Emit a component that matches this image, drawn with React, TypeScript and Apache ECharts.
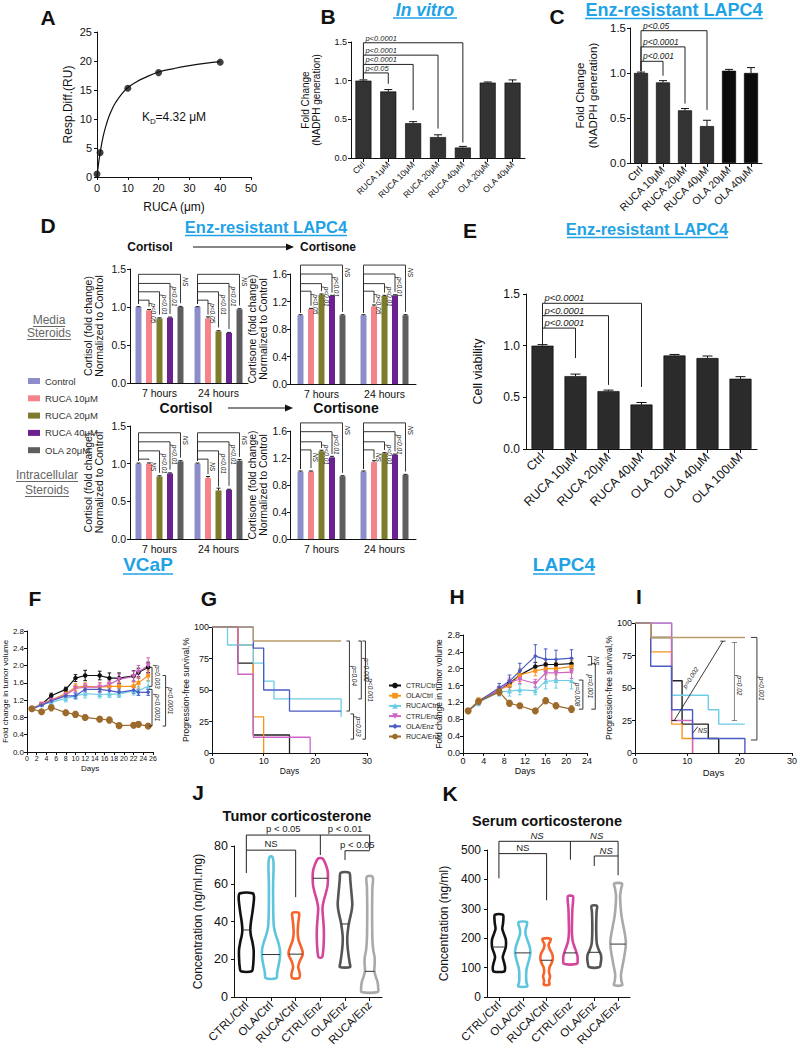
import React, { useEffect, useRef } from 'react';
import * as echarts from 'echarts';

const FONT = '"Liberation Sans", Arial, Helvetica, sans-serif';
const INK = '#111111';
const TITLE_BLUE = '#1fa2e6';

/* ---------- Panel A ---------- */
const aConc = [0, 1, 10, 20, 40];
const aResp = [0.5, 4.2, 15.3, 18.0, 19.8];
const aFitConc = [0, 0.5, 1, 2, 3, 4, 5, 6, 8, 10, 12.5, 15, 20, 25, 30, 35, 40];
const aFitResp = [0, 2.3, 4.1, 7.0, 9.0, 10.6, 11.8, 12.8, 14.3, 15.4, 16.3, 17.0, 18.1, 18.7, 19.2, 19.6, 19.9];

/* ---------- Panel B ---------- */
const bCats = ['Ctrl', 'RUCA 1μM', 'RUCA 10μM', 'RUCA 20μM', 'RUCA 40μM', 'OLA 20μM', 'OLA 40μM'];
const bMean = [1.0, 0.86, 0.45, 0.27, 0.135, 0.975, 0.975];
const bErr = [0.01, 0.025, 0.02, 0.03, 0.015, 0.008, 0.035];
const bPairTo = [1, 2, 3, 4];
const bPairTop = [1.1, 1.21, 1.33, 1.49];
const bPairEnd = [0.96, 0.62, 0.38, 0.2];
const bPairLabel = ['p<0.05', 'p<0.0001', 'p<0.0001', 'p<0.0001'];

/* ---------- Panel C ---------- */
const cCats = ['Ctrl', 'RUCA 10μM', 'RUCA 20μM', 'RUCA 40μM', 'OLA 20μM', 'OLA 40μM'];
const cMean = [1.0, 0.895, 0.585, 0.41, 1.025, 1.0];
const cErr = [0.01, 0.02, 0.02, 0.065, 0.015, 0.06];
const cColors = ['#333333', '#333333', '#333333', '#333333', '#0b0b0b', '#0b0b0b'];
const cPairTo = [1, 2, 3];
const cPairTop = [1.13, 1.29, 1.47];
const cPairEnd = [0.97, 0.66, 0.59];
const cPairLabel = ['p<0.001', 'p<0.0001', 'p<0.05'];

/* ---------- Panel D ---------- */
const dGroups = ['7 hours', '24 hours'];
const dNames = ['Control', 'RUCA 10μM', 'RUCA 20μM', 'RUCA 40μM', 'OLA 20μM'];
const dColors = ['#8d8dca', '#f4838a', '#7c7c2c', '#6b2290', '#5e5e5e'];
const dCortisolMedia = [[1.0, 1.0], [0.955, 0.85], [0.85, 0.68], [0.86, 0.66], [1.0, 0.97]];
const dCortisolMediaErr = [[0.005, 0.005], [0.012, 0.02], [0.008, 0.008], [0.008, 0.006], [0.008, 0.008]];
const dCortisoneMedia = [[1.0, 1.0], [1.09, 1.13], [1.3, 1.28], [1.28, 1.29], [1.0, 1.0]];
const dCortisoneMediaErr = [[0.008, 0.008], [0.01, 0.02], [0.01, 0.01], [0.01, 0.008], [0.008, 0.008]];
const dCortisolIntra = [[1.0, 1.0], [1.0, 0.81], [0.83, 0.645], [0.87, 0.655], [1.03, 1.04]];
const dCortisolIntraErr = [[0.008, 0.008], [0.01, 0.02], [0.01, 0.03], [0.008, 0.006], [0.01, 0.015]];
const dCortisoneIntra = [[1.0, 1.0], [1.0, 1.14], [1.3, 1.27], [1.21, 1.25], [0.93, 0.95]];
const dCortisoneIntraErr = [[0.008, 0.008], [0.008, 0.02], [0.015, 0.01], [0.015, 0.008], [0.008, 0.008]];
const dTopsCortisolMedia = [1.09, 1.2, 1.31, 1.43];
const dTopsCortisoneMedia = [1.35, 1.46, 1.6, 1.73];
const dTopsCortisolIntra = [1.06, 1.17, 1.29, 1.41];
const dTopsCortisoneIntra = [1.32, 1.44, 1.59, 1.72];
const dLabelsMedia = [['p<0.05', 'p<0.01', 'p<0.01', 'NS'], ['p<0.05', 'p<0.01', 'p<0.01', 'NS']];
const dLabelsIntra = [['NS', 'p<0.01', 'p<0.01', 'NS'], ['NS', 'p<0.01', 'p<0.01', 'NS']];

/* ---------- Panel E ---------- */
const eCats = ['Ctrl', 'RUCA 10μM', 'RUCA 20μM', 'RUCA 40μM', 'OLA 20μM', 'OLA 40μM', 'OLA 100uM'];
const eMean = [1.0, 0.705, 0.56, 0.43, 0.905, 0.88, 0.68];
const eErr = [0.01, 0.02, 0.01, 0.02, 0.01, 0.02, 0.02];
const ePairTo = [1, 2, 3];
const ePairTop = [1.17, 1.29, 1.41];
const ePairEnd = [0.88, 0.62, 0.6];
const ePairLabel = ['p<0.0001', 'p<0.0001', 'p<0.0001'];

/* ---------- Groups (F, G, H, I) ---------- */
const groupNames = ['CTRL/Ctrl', 'OLA/Ctrl', 'RUCA/Ctrl', 'CTRL/Enz', 'OLA/Enz', 'RUCA/Enz'];
const lineColors = ['#111111', '#f7941d', '#6dcde6', '#d064c4', '#4a5cc4', '#9c6b2b'];
const kmColors = ['#222222', '#f7941d', '#6dcde6', '#d064c4', '#4a5cc4', '#b99b6b'];
const groupSymbols = ['circle', 'rect', 'triangle', 'path://M0,0L10,0L5,9Z', 'diamond', 'circle'];
const groupSymbolSizes = [4.5, 4, 5, 5, 4.5, 7];

/* F : VCaP tumour volume */
const fDays = [1, 3, 5, 8, 10, 12, 15, 17, 19, 22, 23, 25];
const fCtrlCtrl = [1.0, 1.1, 1.3, 1.45, 1.71, 1.77, 1.77, 1.71, 1.71, 1.76, 1.84, 1.96];
const fOlaCtrl = [1.0, 1.12, 1.2, 1.35, 1.5, 1.52, 1.5, 1.52, 1.52, 1.52, 1.6, 1.77];
const fRucaCtrl = [1.0, 1.1, 1.15, 1.24, 1.3, 1.35, 1.33, 1.34, 1.34, 1.42, 1.42, 1.52];
const fCtrlEnz = [1.0, 1.1, 1.2, 1.32, 1.47, 1.5, 1.5, 1.56, 1.68, 1.75, 1.85, 2.0];
const fOlaEnz = [1.0, 1.08, 1.18, 1.3, 1.3, 1.45, 1.45, 1.42, 1.38, 1.43, 1.38, 1.38];
const fRucaEnz = [1.0, 0.93, 1.03, 0.91, 0.87, 0.8, 0.76, 0.74, 0.61, 0.62, 0.64, 0.6];
const fErrCtrlCtrl = [0.02, 0.04, 0.06, 0.05, 0.08, 0.12, 0.1, 0.12, 0.12, 0.12, 0.1, 0.12];
const fErrOlaCtrl = [0.02, 0.03, 0.05, 0.08, 0.08, 0.08, 0.1, 0.1, 0.1, 0.1, 0.12, 0.12];
const fErrRucaCtrl = [0.02, 0.03, 0.05, 0.08, 0.08, 0.1, 0.08, 0.08, 0.08, 0.1, 0.1, 0.12];
const fErrCtrlEnz = [0.02, 0.03, 0.05, 0.05, 0.08, 0.08, 0.1, 0.1, 0.12, 0.12, 0.15, 0.18];
const fErrOlaEnz = [0.02, 0.03, 0.04, 0.05, 0.06, 0.06, 0.08, 0.08, 0.08, 0.07, 0.07, 0.07];
const fErrRucaEnz = [0.02, 0.04, 0.08, 0.06, 0.07, 0.06, 0.06, 0.07, 0.06, 0.06, 0.06, 0.06];
const fBrkX = [25.8, 25.8, 28.6];
const fBrkTop = [1.96, 1.45, 1.77];
const fBrkBottom = [1.52, 0.6, 0.6];
const fBrkLabel = ['p=0.003', 'p<0.0001', 'p<0.0001'];

/* G : VCaP progression-free survival */
const gCtrlCtrl = [[0, 100], [5, 71.4], [8, 14.3], [15, 0]];
const gOlaCtrl = [[0, 100], [5, 85.7], [8, 28.6], [10, 0]];
const gRucaCtrl = [[0, 100], [3, 85.7], [8, 71.4], [10, 57.1], [12, 42.9], [25, 28.6]];
const gCtrlEnz = [[0, 100], [5, 62.5], [8, 12.5], [19, 0]];
const gOlaEnz = [[0, 100], [8, 83.3], [10, 50], [15, 33.3], [25, 33.3]];
const gRucaEnz = [[0, 100], [8, 88.9], [25, 88.9]];
const gBrkX = [26.6, 27.4, 28.9, 29.7];
const gBrkTop = [88.9, 31, 88.9, 88.9];
const gBrkBottom = [33.3, 11, 42.9, 11];
const gBrkLabel = ['p=0.04', 'p=0.03', 'p=0.002', 'p<0.001'];

/* H : LAPC4 tumour volume */
const hDays = [1, 3, 7, 9, 11, 14, 16, 18, 21];
const hCtrlCtrl = [1.0, 1.2, 1.5, 1.65, 1.85, 2.05, 2.1, 2.1, 2.12];
const hOlaCtrl = [1.0, 1.25, 1.5, 1.6, 1.85, 1.95, 2.0, 2.0, 2.05];
const hRucaCtrl = [1.0, 1.2, 1.45, 1.47, 1.5, 1.48, 1.7, 1.72, 1.72];
const hCtrlEnz = [1.0, 1.22, 1.5, 1.68, 1.75, 1.65, 1.9, 1.9, 1.92];
const hOlaEnz = [1.0, 1.22, 1.55, 1.7, 1.95, 2.3, 2.22, 2.22, 2.25];
const hRucaEnz = [1.0, 1.22, 1.45, 1.18, 1.12, 1.0, 1.24, 1.12, 1.04];
const hErrCtrlCtrl = [0.02, 0.06, 0.08, 0.08, 0.1, 0.1, 0.12, 0.12, 0.12];
const hErrOlaCtrl = [0.02, 0.06, 0.08, 0.1, 0.15, 0.12, 0.15, 0.15, 0.15];
const hErrRucaCtrl = [0.02, 0.08, 0.1, 0.12, 0.12, 0.1, 0.18, 0.18, 0.2];
const hErrCtrlEnz = [0.02, 0.06, 0.08, 0.1, 0.1, 0.1, 0.15, 0.15, 0.15];
const hErrOlaEnz = [0.02, 0.06, 0.1, 0.15, 0.18, 0.27, 0.25, 0.22, 0.2];
const hErrRucaEnz = [0.02, 0.05, 0.08, 0.07, 0.06, 0.04, 0.07, 0.07, 0.08];
const hBrkX = [24.9, 23.2, 25.6];
const hBrkTop = [2.29, 1.73, 2.12];
const hBrkBottom = [2.09, 1.04, 1.04];
const hBrkLabel = ['NS', 'p=0.008', 'p=0.001'];
const hBrkSide = [1, -1, -1];

/* I : LAPC4 progression-free survival */
const iCtrlCtrl = [[0, 100], [3, 88.9], [7, 55.6], [9, 22.2], [14, 11.1], [16, 0]];
const iOlaCtrl = [[0, 100], [3, 77.8], [7, 22.2], [9, 11.1], [11, 0]];
const iRucaCtrl = [[0, 100], [7, 44.4], [14, 33.3], [16, 22.2], [21, 22.2]];
const iCtrlEnz = [[0, 100], [7, 25], [11, 0]];
const iOlaEnz = [[0, 100], [3, 66.7], [7, 33.3], [11, 11.1], [21, 0]];
const iRucaEnz = [[0, 100], [3, 88.9], [21, 88.9]];
const iBlackSegs = [[7.5, 25, 16.8, 86], [7.0, 25, 8.0, 25], [16.3, 86, 17.3, 86], [11.0, 15.2, 12.0, 20.3]];
const iGraySegs = [[19, 85, 19, 25], [18.5, 85, 19.5, 85], [18.5, 25, 19.5, 25]];
const iTextX = [10.6, 20.0, 12.9];
const iTextY = [58, 52, 17.5];
const iText = ['p=0.002', 'p=0.02', 'NS'];
const iTextRot = [57, -90, 0];
const iBrkX = [23.3];
const iBrkTop = [88.9];
const iBrkBottom = [10];
const iBrkLabel = ['p<0.001'];

/* ---------- J / K violins ---------- */
const vCats = ['CTRL/Ctrl', 'OLA/Ctrl', 'RUCA/Ctrl', 'CTRL/Enz', 'OLA/Enz', 'RUCA/Enz'];
const vColors = ['#111111', '#5ec6dc', '#f4642b', '#d4459e', '#555555', '#a9a9a9'];
const jMedian = [35.5, 22.5, 22.7, 62.9, 38.7, 13.6];
const jShapeCtrlCtrl = [[13.6, 0.63], [16, 0.78], [20, 0.85], [25, 0.86], [29, 0.72], [33, 0.52], [36, 0.47], [40, 0.55], [45, 0.72], [50, 0.86], [53, 0.9], [54.9, 0.76]];
const jShapeOlaCtrl = [[10, 0.62], [13, 0.72], [17, 0.9], [21, 1.05], [25, 1.05], [29, 0.85], [33, 0.55], [37, 0.35], [42, 0.28], [50, 0.25], [60, 0.25], [68, 0.3], [72, 0.28], [74.3, 0.15]];
const jShapeRucaCtrl = [[10, 0.4], [12, 0.5], [14, 0.4], [16, 0.3], [19, 0.48], [22, 0.8], [24, 0.82], [27, 0.6], [30, 0.35], [34, 0.24], [39, 0.3], [42, 0.38], [44.6, 0.38]];
const jShapeCtrlEnz = [[21, 0.2], [23, 0.3], [27, 0.38], [32, 0.42], [37, 0.4], [42, 0.32], [47, 0.25], [51, 0.4], [55, 0.65], [59, 0.85], [63, 0.9], [67, 0.85], [70, 0.65], [72.5, 0.4], [73.5, 0.2]];
const jShapeOlaEnz = [[15.9, 0.6], [18, 0.55], [23, 0.39], [28, 0.28], [32, 0.27], [36, 0.36], [40, 0.5], [45, 0.75], [49, 0.86], [53, 0.8], [58, 0.7], [62, 0.62], [65.8, 0.5]];
const jShapeRucaEnz = [[2.6, 0.95], [5, 1.0], [8, 0.92], [11, 0.7], [14, 0.55], [18, 0.6], [21, 0.58], [25, 0.42], [30, 0.33], [40, 0.29], [50, 0.29], [58, 0.32], [63.7, 0.35]];
const jSegs = [[0, 85.8, 5, 85.8], [0, 85.8, 0, 65.7], [3, 85.8, 3, 75.2], [5, 85.8, 5, 77.8], [0, 77.8, 2, 77.8], [2, 77.8, 2, 52.9], [4, 77.5, 5, 77.5], [4, 77.5, 4, 72.6]];
const jTextX = [1.5, 4, 1, 4.5];
const jTextY = [86.6, 86.6, 78.6, 78.3];
const jText = ['p < 0.05', 'p < 0.01', 'NS', 'p < 0.05'];

const kMedian = [170, 150, 125, 150, 152, 180];
const kShapeCtrlCtrl = [[87, 0.65], [100, 0.75], [115, 0.65], [135, 0.47], [150, 0.6], [170, 0.84], [195, 0.84], [215, 0.6], [232, 0.41], [250, 0.5], [270, 0.55], [280, 0.5]];
const kShapeOlaCtrl = [[36, 0.55], [50, 0.45], [75, 0.41], [100, 0.5], [125, 0.75], [150, 0.94], [170, 0.85], [195, 0.55], [215, 0.33], [230, 0.35], [245, 0.5], [255, 0.5]];
const kShapeRucaCtrl = [[42, 0.35], [55, 0.3], [70, 0.42], [85, 0.3], [100, 0.35], [115, 0.6], [130, 0.76], [145, 0.7], [165, 0.35], [178, 0.25], [190, 0.45], [198, 0.49]];
const kShapeCtrlEnz = [[113, 0.8], [125, 0.88], [140, 0.85], [155, 0.7], [170, 0.5], [190, 0.28], [220, 0.18], [260, 0.2], [300, 0.24], [325, 0.32], [343, 0.3]];
const kShapeOlaEnz = [[102, 0.65], [115, 0.78], [130, 0.85], [145, 0.8], [160, 0.55], [180, 0.32], [210, 0.25], [250, 0.24], [290, 0.28], [310, 0.33]];
const kShapeRucaEnz = [[40, 0.5], [55, 0.4], [75, 0.35], [100, 0.5], [130, 0.7], [160, 0.88], [185, 0.95], [210, 0.85], [240, 0.65], [275, 0.42], [310, 0.3], [345, 0.25], [370, 0.38], [386, 0.48]];
const kSegs = [[0, 529.6, 5, 529.6], [0, 529.6, 0, 403.7], [3, 529.6, 3, 467], [5, 529.6, 5, 414], [0, 487.7, 2, 487.7], [2, 487.7, 2, 329], [4, 479.6, 5, 479.6], [4, 479.6, 4, 445.6]];
const kTextX = [1.6, 4.1, 1.0, 4.5];
const kTextY = [532, 532, 490, 482];
const kText = ['NS', 'NS', 'NS', 'NS'];
const kItalic = [true, true, false, true];

/* ================= helpers ================= */
function ts(text: string, fontSize: number, opt: any = {}) {
  const align = opt.align || 'center';
  const v = opt.v || 'middle';
  return {
    text, fontSize, fontFamily: FONT,
    fontStyle: opt.italic ? 'italic' : 'normal',
    fontWeight: opt.bold ? 'bold' : 'normal',
    fill: opt.color || INK, textFill: opt.color || INK,
    align, textAlign: align, verticalAlign: v, textVerticalAlign: v,
  };
}

function pt(api: any, x: number, y: number) {
  const x0 = Math.floor(x);
  const f = x - x0;
  const a = api.coord([x0, y]);
  if (f === 0) return a;
  const b = api.coord([x0 + 1, y]);
  return [a[0] + (b[0] - a[0]) * f, a[1]];
}

const fmt1 = (v: number) => v.toFixed(1);

function valueAxis(gridIndex: number, min: number, max: number, interval: number, fontSize: number, o: any = {}) {
  return {
    type: 'value', gridIndex, min, max, interval,
    name: o.name, nameLocation: 'middle', nameGap: o.nameGap ?? 20,
    nameTextStyle: { fontFamily: FONT, fontSize: o.nameSize ?? fontSize, color: INK, lineHeight: o.nameLH },
    axisLine: { show: true, onZero: false, lineStyle: { color: INK, width: 1 } },
    axisTick: { show: true, length: o.tick ?? 3, lineStyle: { color: INK, width: 1 } },
    splitLine: { show: false },
    axisLabel: { color: INK, fontSize, fontFamily: FONT, margin: o.margin ?? 4, formatter: o.fmt },
  };
}

function categoryAxis(gridIndex: number, data: string[], fontSize: number, o: any = {}) {
  return {
    type: 'category', gridIndex, data,
    axisLine: { show: true, onZero: false, lineStyle: { color: INK, width: 1 } },
    axisTick: { show: true, alignWithLabel: true, length: o.tick ?? 4, lineStyle: { color: INK, width: 1 } },
    splitLine: { show: false },
    axisLabel: { color: INK, fontSize, fontFamily: FONT, rotate: o.rotate ?? 0, margin: o.margin ?? 5, interval: 0 },
  };
}

function barErrSeries(ax: number, means: number[], errs: number[], cap: number) {
  return {
    type: 'custom', xAxisIndex: ax, yAxisIndex: ax, clip: false, silent: true, z: 4,
    data: means.map((m, i) => [i, m]),
    renderItem: (params: any, api: any) => {
      const i = params.dataIndex;
      const a = api.coord([i, means[i]]);
      const b = api.coord([i, means[i] + errs[i]]);
      return {
        type: 'group', children: [
          { type: 'line', shape: { x1: a[0], y1: a[1], x2: b[0], y2: b[1] }, style: { stroke: INK, lineWidth: 1 } },
          { type: 'line', shape: { x1: b[0] - cap, y1: b[1], x2: b[0] + cap, y2: b[1] }, style: { stroke: INK, lineWidth: 1 } },
        ],
      };
    },
  };
}

function pairBracketSeries(ax: number, to: number[], tops: number[], ends: number[], labels: string[], leftEnd: number, fontSize: number) {
  return {
    type: 'custom', xAxisIndex: ax, yAxisIndex: ax, clip: false, silent: true, z: 5,
    data: to.map((t, i) => [t, tops[i]]),
    renderItem: (params: any, api: any) => {
      const i = params.dataIndex;
      const p0 = api.coord([0, tops[i]]);
      const pk = api.coord([to[i], tops[i]]);
      const yL = api.coord([0, leftEnd])[1];
      const yR = api.coord([to[i], ends[i]])[1];
      return {
        type: 'group', children: [
          { type: 'polyline', shape: { points: [[p0[0], yL], [p0[0], p0[1]], [pk[0], p0[1]], [pk[0], yR]] }, style: { stroke: '#222', lineWidth: 1, fill: null } },
          { type: 'text', x: p0[0] + 2, y: p0[1] - 0.5, style: ts(labels[i], fontSize, { italic: true, align: 'left', v: 'bottom', color: '#222' }) },
        ],
      };
    },
  };
}

function dErrSeries(ax: number, vals: number[][], errs: number[][], spacing: number) {
  const items: number[][] = [];
  for (let k = 0; k < 5; k++) for (let g = 0; g < 2; g++) items.push([g, vals[k][g], errs[k][g], k]);
  return {
    type: 'custom', xAxisIndex: ax, yAxisIndex: ax, clip: false, silent: true, z: 4,
    data: items.map((it) => [it[0], it[1]]),
    renderItem: (params: any, api: any) => {
      const it = items[params.dataIndex];
      const x = api.coord([it[0], 0])[0] + (it[3] - 2) * spacing;
      const y1 = api.coord([it[0], it[1]])[1];
      const y2 = api.coord([it[0], it[1] + it[2]])[1];
      return {
        type: 'group', children: [
          { type: 'line', shape: { x1: x, y1, x2: x, y2 }, style: { stroke: '#222', lineWidth: 1 } },
          { type: 'line', shape: { x1: x - 2, y1: y2, x2: x + 2, y2 }, style: { stroke: '#222', lineWidth: 1 } },
        ],
      };
    },
  };
}

function dBracketSeries(ax: number, vals: number[][], tops: number[], labels: string[][], spacing: number) {
  const items: any[] = [];
  for (let g = 0; g < 2; g++) for (let k = 1; k <= 4; k++) items.push({ g, k, top: tops[k - 1], l: vals[0][g], r: vals[k][g], label: labels[g][k - 1] });
  return {
    type: 'custom', xAxisIndex: ax, yAxisIndex: ax, clip: false, silent: true, z: 5,
    data: items.map((it) => [it.g, it.top]),
    renderItem: (params: any, api: any) => {
      const it = items[params.dataIndex];
      const cx = api.coord([it.g, 0])[0];
      const x0 = cx - 2 * spacing;
      const xk = cx + (it.k - 2) * spacing;
      const yT = api.coord([it.g, it.top])[1];
      const yL = api.coord([it.g, it.l + 0.04])[1];
      const yR = api.coord([it.g, it.r + 0.05])[1];
      return {
        type: 'group', children: [
          { type: 'polyline', shape: { points: [[x0, yL], [x0, yT], [xk, yT], [xk, yR]] }, style: { stroke: '#222', lineWidth: 0.9, fill: null } },
          { type: 'text', x: xk + 1.2, y: yT + 3, rotation: -Math.PI / 2, style: ts(it.label, 6.5, { italic: true, align: 'left', v: 'bottom', color: '#222' }) },
        ],
      };
    },
  };
}

function lineErrSeries(ax: number, xs: number[], means: number[], errs: number[], color: string) {
  return {
    type: 'custom', xAxisIndex: ax, yAxisIndex: ax, clip: false, silent: true, z: 3,
    data: xs.map((x, i) => [x, means[i]]),
    renderItem: (params: any, api: any) => {
      const i = params.dataIndex;
      const lo = api.coord([xs[i], means[i] - errs[i]]);
      const hi = api.coord([xs[i], means[i] + errs[i]]);
      const c = 1.8;
      return {
        type: 'group', children: [
          { type: 'line', shape: { x1: lo[0], y1: lo[1], x2: hi[0], y2: hi[1] }, style: { stroke: color, lineWidth: 1 } },
          { type: 'line', shape: { x1: hi[0] - c, y1: hi[1], x2: hi[0] + c, y2: hi[1] }, style: { stroke: color, lineWidth: 1 } },
          { type: 'line', shape: { x1: lo[0] - c, y1: lo[1], x2: lo[0] + c, y2: lo[1] }, style: { stroke: color, lineWidth: 1 } },
        ],
      };
    },
  };
}

function vBracketSeries(ax: number, xs: number[], tops: number[], bottoms: number[], labels: string[], sides: number[], tick: number, fontSize: number) {
  return {
    type: 'custom', xAxisIndex: ax, yAxisIndex: ax, clip: false, silent: true, z: 6,
    data: xs.map((x, i) => [x, tops[i]]),
    renderItem: (params: any, api: any) => {
      const i = params.dataIndex;
      const a = api.coord([xs[i], tops[i]]);
      const b = api.coord([xs[i], bottoms[i]]);
      const s = sides[i];
      return {
        type: 'group', children: [
          { type: 'polyline', shape: { points: [[a[0] - tick, a[1]], [a[0], a[1]], [b[0], b[1]], [b[0] - tick, b[1]]] }, style: { stroke: '#222', lineWidth: 0.9, fill: null } },
          { type: 'text', x: a[0] + s * 1.5, y: (a[1] + b[1]) / 2, rotation: -Math.PI / 2, style: ts(labels[i], fontSize, { italic: true, align: 'center', v: s > 0 ? 'bottom' : 'top', color: '#222' }) },
        ],
      };
    },
  };
}

function segSeries(ax: number, segs: number[][], color: string, width: number) {
  return {
    type: 'custom', xAxisIndex: ax, yAxisIndex: ax, clip: false, silent: true, z: 6,
    data: segs.map((s) => [s[0], s[1]]),
    renderItem: (params: any, api: any) => {
      const s = segs[params.dataIndex];
      const p = pt(api, s[0], s[1]);
      const q = pt(api, s[2], s[3]);
      return { type: 'line', shape: { x1: p[0], y1: p[1], x2: q[0], y2: q[1] }, style: { stroke: color, lineWidth: width } };
    },
  };
}

function textSeries(ax: number, xs: number[], ys: number[], texts: string[], fontSize: number, opt: any = {}) {
  return {
    type: 'custom', xAxisIndex: ax, yAxisIndex: ax, clip: false, silent: true, z: 6,
    data: xs.map((x, i) => [x, ys[i]]),
    renderItem: (params: any, api: any) => {
      const i = params.dataIndex;
      const p = pt(api, xs[i], ys[i]);
      const rot = opt.rot ? opt.rot[i] : 0;
      const italic = Array.isArray(opt.italic) ? opt.italic[i] : !!opt.italic;
      return {
        type: 'text', x: p[0], y: p[1], rotation: (rot * Math.PI) / 180,
        style: ts(texts[i], fontSize, { italic, align: 'center', v: opt.v || 'bottom', color: opt.color || '#222' }),
      };
    },
  };
}

function violinSeries(ax: number, shapes: number[][][], medians: number[]) {
  return {
    type: 'custom', xAxisIndex: ax, yAxisIndex: ax, clip: false, silent: true, z: 4,
    data: medians.map((m, i) => [i, m]),
    renderItem: (params: any, api: any) => {
      const i = params.dataIndex;
      const prof = shapes[i];
      const cx = api.coord([i, 0])[0];
      const hw = api.size([1, 0])[0] * 0.345;
      const right = prof.map(([v, w]) => [cx + w * hw, api.coord([i, v])[1]]);
      const left = prof.slice().reverse().map(([v, w]) => [cx - w * hw, api.coord([i, v])[1]]);
      const m = medians[i];
      let mw = prof[0][1];
      for (let j = 0; j < prof.length - 1; j++) {
        if (m >= prof[j][0] && m <= prof[j + 1][0]) {
          const f = (m - prof[j][0]) / (prof[j + 1][0] - prof[j][0]);
          mw = prof[j][1] + (prof[j + 1][1] - prof[j][1]) * f;
        }
      }
      const my = api.coord([i, m])[1];
      return {
        type: 'group', children: [
          { type: 'polygon', shape: { points: right.concat(left), smooth: 0.3 }, style: { fill: 'none', stroke: vColors[i], lineWidth: 2.6, lineJoin: 'round' } },
          { type: 'line', shape: { x1: cx - mw * hw, y1: my, x2: cx + mw * hw, y2: my }, style: { stroke: '#333', lineWidth: 1 } },
        ],
      };
    },
  };
}

/* graphic helpers */
function gText(text: string, x: number, y: number, size: number, opt: any = {}) {
  return { type: 'text', x, y, silent: true, style: ts(text, size, opt) };
}
function gLine(x1: number, y1: number, x2: number, y2: number, color: string, w: number) {
  return { type: 'line', silent: true, shape: { x1, y1, x2, y2 }, style: { stroke: color, lineWidth: w } };
}

function buildOption() {
  const grids = [
    { left: 97, top: 32, width: 154, height: 145 },
    { left: 351, top: 42, width: 174, height: 116 },
    { left: 630, top: 28, width: 132, height: 135 },
    { left: 130, top: 269, width: 118, height: 114 },
    { left: 290, top: 274, width: 126, height: 110 },
    { left: 130, top: 426, width: 118, height: 113 },
    { left: 290, top: 431, width: 126, height: 108 },
    { left: 526, top: 294, width: 231, height: 155 },
    { left: 25, top: 631, width: 128, height: 121 },
    { left: 212, top: 627, width: 155, height: 126 },
    { left: 463, top: 635, width: 124, height: 118 },
    { left: 635, top: 623, width: 158, height: 130 },
    { left: 234, top: 846, width: 148, height: 151 },
    { left: 487, top: 850, width: 143, height: 147 },
  ];

  const dNameCortisol = 'Cortisol (fold change)\nNormalized to Control';
  const dNameCortisone = 'Cortisone (fold change)\nNormalized to Control';
  const vol = 'Fold change in tumor volume';
  const pfs = 'Progression-free survival,%';

  const xAxis = [
    valueAxis(0, 0, 50, 10, 11, { name: 'RUCA (μm)', nameGap: 24, nameSize: 12, margin: 5 }),
    categoryAxis(1, bCats, 8.5, { rotate: 45, margin: 5 }),
    categoryAxis(2, cCats, 10.5, { rotate: 45, margin: 5 }),
    categoryAxis(3, dGroups, 10.5, { tick: 0, margin: 4 }),
    categoryAxis(4, dGroups, 10.5, { tick: 0, margin: 4 }),
    categoryAxis(5, dGroups, 10.5, { tick: 0, margin: 4 }),
    categoryAxis(6, dGroups, 10.5, { tick: 0, margin: 4 }),
    categoryAxis(7, eCats, 12.5, { rotate: 45, margin: 6 }),
    valueAxis(8, 0, 26, 2, 7, { name: 'Days', nameGap: 12, nameSize: 8, margin: 3 }),
    valueAxis(9, 0, 30, 10, 9, { name: 'Days', nameGap: 13, nameSize: 8.5, margin: 3 }),
    valueAxis(10, 0, 24, 4, 9, { name: 'Days', nameGap: 13, nameSize: 9, margin: 3 }),
    valueAxis(11, 0, 30, 10, 9, { name: 'Days', nameGap: 14, nameSize: 9.5, margin: 3 }),
    categoryAxis(12, vCats, 11.5, { rotate: 45, margin: 6 }),
    categoryAxis(13, vCats, 11.5, { rotate: 45, margin: 6 }),
  ];

  const yAxis = [
    valueAxis(0, 0, 25, 5, 11, { name: 'Resp.Diff.(RU)', nameGap: 23, nameSize: 12, margin: 5 }),
    valueAxis(1, 0, 1.5, 0.5, 9, { name: 'Fold Change\n(NADPH generation)', nameGap: 29, nameSize: 10, nameLH: 11, fmt: fmt1 }),
    valueAxis(2, 0, 1.5, 0.5, 11.5, { name: 'Fold Change\n(NADPH generation)', nameGap: 31, nameSize: 11.5, nameLH: 13, fmt: fmt1 }),
    valueAxis(3, 0, 1.5, 0.5, 10.5, { name: dNameCortisol, nameGap: 26, nameSize: 10.5, nameLH: 11, fmt: fmt1 }),
    valueAxis(4, 0, 1.6, 0.4, 10.5, { name: dNameCortisone, nameGap: 13, nameSize: 10.5, nameLH: 11, fmt: fmt1, margin: 3 }),
    valueAxis(5, 0, 1.5, 0.5, 10.5, { name: dNameCortisol, nameGap: 26, nameSize: 10.5, nameLH: 11, fmt: fmt1 }),
    valueAxis(6, 0, 1.6, 0.4, 10.5, { name: dNameCortisone, nameGap: 13, nameSize: 10.5, nameLH: 11, fmt: fmt1, margin: 3 }),
    valueAxis(7, 0, 1.5, 0.5, 12, { name: 'Cell viability', nameGap: 42, nameSize: 12.5, fmt: fmt1, margin: 6 }),
    valueAxis(8, 0, 2.8, 0.4, 8, { name: vol, nameGap: 16, nameSize: 8, fmt: fmt1, margin: 3 }),
    valueAxis(9, 0, 100, 25, 9, { name: pfs, nameGap: 18, nameSize: 8.5, margin: 3 }),
    valueAxis(10, 0, 2.8, 0.4, 9, { name: vol, nameGap: 20, nameSize: 8.5, fmt: fmt1, margin: 3 }),
    valueAxis(11, 0, 100, 25, 9, { name: pfs, nameGap: 19, nameSize: 8.5, margin: 3 }),
    valueAxis(12, 0, 80, 20, 12.5, { name: 'Concentration (ng/ml.mg)', nameGap: 30, nameSize: 12, margin: 6 }),
    valueAxis(13, 0, 500, 100, 12, { name: 'Concentration (ng/ml)', nameGap: 37, nameSize: 12, margin: 6 }),
  ];

  const series: any[] = [];

  /* A */
  series.push({
    type: 'line', xAxisIndex: 0, yAxisIndex: 0, smooth: true, showSymbol: false, silent: true,
    data: aFitConc.map((x, i) => [x, aFitResp[i]]), lineStyle: { color: INK, width: 1.2 },
  });
  series.push({
    type: 'scatter', xAxisIndex: 0, yAxisIndex: 0, symbolSize: 7, silent: true,
    data: aConc.map((x, i) => [x, aResp[i]]), itemStyle: { color: INK },
  });

  /* B */
  series.push({ type: 'bar', xAxisIndex: 1, yAxisIndex: 1, data: bMean, barWidth: 16, silent: true, itemStyle: { color: '#333', borderColor: '#000', borderWidth: 0.6 } });
  series.push(barErrSeries(1, bMean, bErr, 4));
  series.push(pairBracketSeries(1, bPairTo, bPairTop, bPairEnd, bPairLabel, 1.02, 7.5));

  /* C */
  series.push({
    type: 'bar', xAxisIndex: 2, yAxisIndex: 2, barWidth: 14, silent: true,
    data: cMean.map((v, i) => ({ value: v, itemStyle: { color: cColors[i] } })),
    itemStyle: { borderColor: '#000', borderWidth: 0.6 },
  });
  series.push(barErrSeries(2, cMean, cErr, 4));
  series.push(pairBracketSeries(2, cPairTo, cPairTop, cPairEnd, cPairLabel, 1.02, 8.5));

  /* D */
  const spacing = 10.5;
  const dPanels = [
    { ax: 3, vals: dCortisolMedia, errs: dCortisolMediaErr, tops: dTopsCortisolMedia, labels: dLabelsMedia },
    { ax: 4, vals: dCortisoneMedia, errs: dCortisoneMediaErr, tops: dTopsCortisoneMedia, labels: dLabelsMedia },
    { ax: 5, vals: dCortisolIntra, errs: dCortisolIntraErr, tops: dTopsCortisolIntra, labels: dLabelsIntra },
    { ax: 6, vals: dCortisoneIntra, errs: dCortisoneIntraErr, tops: dTopsCortisoneIntra, labels: dLabelsIntra },
  ];
  dPanels.forEach((p) => {
    dNames.forEach((n, k) => {
      series.push({ type: 'bar', name: n, xAxisIndex: p.ax, yAxisIndex: p.ax, data: p.vals[k], barWidth: 6, barGap: '75%', silent: true, itemStyle: { color: dColors[k] } });
    });
    series.push(dErrSeries(p.ax, p.vals, p.errs, spacing));
    series.push(dBracketSeries(p.ax, p.vals, p.tops, p.labels, spacing));
  });

  /* E */
  series.push({ type: 'bar', xAxisIndex: 7, yAxisIndex: 7, data: eMean, barWidth: 22, silent: true, itemStyle: { color: '#2b2b2b', borderColor: '#000', borderWidth: 0.6 } });
  series.push(barErrSeries(7, eMean, eErr, 5));
  series.push(pairBracketSeries(7, ePairTo, ePairTop, ePairEnd, ePairLabel, 1.02, 9.5));

  /* F */
  const fVals = [fCtrlCtrl, fOlaCtrl, fRucaCtrl, fCtrlEnz, fOlaEnz, fRucaEnz];
  const fErrs = [fErrCtrlCtrl, fErrOlaCtrl, fErrRucaCtrl, fErrCtrlEnz, fErrOlaEnz, fErrRucaEnz];
  groupNames.forEach((n, k) => {
    series.push(lineErrSeries(8, fDays, fVals[k], fErrs[k], lineColors[k]));
    series.push({
      type: 'line', name: n, xAxisIndex: 8, yAxisIndex: 8, silent: true, z: 4,
      data: fDays.map((d, i) => [d, fVals[k][i]]),
      symbol: groupSymbols[k], symbolSize: groupSymbolSizes[k],
      lineStyle: { color: lineColors[k], width: 1.2 }, itemStyle: { color: lineColors[k] },
    });
  });
  series.push(vBracketSeries(8, fBrkX, fBrkTop, fBrkBottom, fBrkLabel, [1, 1, 1], 3, 6.5));

  /* G */
  const gCurves = [gCtrlCtrl, gOlaCtrl, gRucaCtrl, gCtrlEnz, gOlaEnz, gRucaEnz];
  groupNames.forEach((n, k) => {
    series.push({
      type: 'line', name: n, xAxisIndex: 9, yAxisIndex: 9, step: 'end', showSymbol: false, silent: true,
      data: gCurves[k], lineStyle: { color: kmColors[k], width: 1.3 }, itemStyle: { color: kmColors[k] },
    });
  });
  series.push(vBracketSeries(9, gBrkX, gBrkTop, gBrkBottom, gBrkLabel, [1, 1, 1, 1], 3, 6.5));

  /* H */
  const hVals = [hCtrlCtrl, hOlaCtrl, hRucaCtrl, hCtrlEnz, hOlaEnz, hRucaEnz];
  const hErrs = [hErrCtrlCtrl, hErrOlaCtrl, hErrRucaCtrl, hErrCtrlEnz, hErrOlaEnz, hErrRucaEnz];
  groupNames.forEach((n, k) => {
    series.push(lineErrSeries(10, hDays, hVals[k], hErrs[k], lineColors[k]));
    series.push({
      type: 'line', name: n, xAxisIndex: 10, yAxisIndex: 10, silent: true, z: 4,
      data: hDays.map((d, i) => [d, hVals[k][i]]),
      symbol: groupSymbols[k], symbolSize: groupSymbolSizes[k],
      lineStyle: { color: lineColors[k], width: 1.2 }, itemStyle: { color: lineColors[k] },
    });
  });
  series.push(vBracketSeries(10, hBrkX, hBrkTop, hBrkBottom, hBrkLabel, hBrkSide, 4, 6.5));

  /* I */
  const iCurves = [iCtrlCtrl, iOlaCtrl, iRucaCtrl, iCtrlEnz, iOlaEnz, iRucaEnz];
  groupNames.forEach((n, k) => {
    series.push({
      type: 'line', name: n, xAxisIndex: 11, yAxisIndex: 11, step: 'end', showSymbol: false, silent: true,
      data: iCurves[k], lineStyle: { color: kmColors[k], width: 1.4 }, itemStyle: { color: kmColors[k] },
    });
  });
  series.push(segSeries(11, iBlackSegs, '#222', 0.9));
  series.push(segSeries(11, iGraySegs, '#888', 1));
  series.push(textSeries(11, iTextX, iTextY, iText, 6.5, { italic: true, rot: iTextRot, v: 'middle' }));
  series.push(vBracketSeries(11, iBrkX, iBrkTop, iBrkBottom, iBrkLabel, [1], 6, 6.5));

  /* J */
  series.push(violinSeries(12, [jShapeCtrlCtrl, jShapeOlaCtrl, jShapeRucaCtrl, jShapeCtrlEnz, jShapeOlaEnz, jShapeRucaEnz], jMedian));
  series.push(segSeries(12, jSegs, '#222', 1));
  series.push(textSeries(12, jTextX, jTextY, jText, 9.5, { italic: false }));

  /* K */
  series.push(violinSeries(13, [kShapeCtrlCtrl, kShapeOlaCtrl, kShapeRucaCtrl, kShapeCtrlEnz, kShapeOlaEnz, kShapeRucaEnz], kMedian));
  series.push(segSeries(13, kSegs, '#222', 1));
  series.push(textSeries(13, kTextX, kTextY, kText, 9.5, { italic: kItalic }));

  /* graphics */
  const letters: [string, number, number][] = [
    ['A', 48, 17], ['B', 328, 16], ['C', 557, 16], ['D', 48, 225], ['E', 470, 230],
    ['F', 35, 598], ['G', 209, 598], ['H', 457, 596], ['I', 639, 596], ['J', 198, 792], ['K', 450, 793],
  ];
  const elements: any[] = [];
  letters.forEach(([t, x, y]) => elements.push(gText(t, x, y, 21, { bold: true })));

  const titles: any[] = [
    { t: 'In vitro', x: 425, y: 9.5, s: 17.5, it: true, u: [393, 457, 18] },
    { t: 'Enz-resistant LAPC4', x: 674, y: 10, s: 18, it: false, u: [585, 763, 18.5] },
    { t: 'Enz-resistant LAPC4', x: 266, y: 227, s: 16.5, it: false, u: [185, 347, 235.5] },
    { t: 'Enz-resistant LAPC4', x: 647, y: 229, s: 16.5, it: false, u: [567, 728, 237.5] },
    { t: 'VCaP', x: 148, y: 564, s: 19, it: false, u: [123, 173, 574] },
    { t: 'LAPC4', x: 564, y: 564, s: 19, it: false, u: [533, 595, 574] },
  ];
  titles.forEach((ti) => {
    elements.push(gText(ti.t, ti.x, ti.y, ti.s, { bold: true, italic: ti.it, color: TITLE_BLUE }));
    elements.push(gLine(ti.u[0], ti.u[2], ti.u[1], ti.u[2], TITLE_BLUE, 1.3));
  });

  // D headings
  elements.push(gText('Cortisol', 150, 247, 12, { bold: true }));
  elements.push(gLine(193, 247, 287, 247, INK, 1.2));
  elements.push({ type: 'polygon', silent: true, shape: { points: [[286, 243.5], [294, 247], [286, 250.5]] }, style: { fill: INK } });
  elements.push(gText('Cortisone', 328, 247, 12, { bold: true }));
  elements.push(gText('Cortisol', 186, 408, 14, { bold: true }));
  elements.push(gLine(228, 408, 286, 408, INK, 1.2));
  elements.push({ type: 'polygon', silent: true, shape: { points: [[285, 404.5], [293, 408], [285, 411.5]] }, style: { fill: INK } });
  elements.push(gText('Cortisone', 346, 408, 14, { bold: true }));

  // side labels
  const gray = '#666666';
  elements.push(gText('Media', 49, 320, 12, { color: gray }));
  elements.push(gLine(33, 326.5, 65, 326.5, gray, 1));
  elements.push(gText('Steroids', 49, 333, 12, { color: gray }));
  elements.push(gLine(27, 339.5, 71, 339.5, gray, 1));
  elements.push(gText('Intracellular', 47, 475, 12, { color: gray }));
  elements.push(gLine(16, 481.5, 78, 481.5, gray, 1));
  elements.push(gText('Steroids', 47, 490, 12, { color: gray }));
  elements.push(gLine(25, 496.5, 69, 496.5, gray, 1));

  // KD note
  elements.push(gText('K', 142, 117, 12, { align: 'left' }));
  elements.push(gText('D', 150, 121, 8, { align: 'left' }));
  elements.push(gText('=4.32 μM', 155.5, 117, 12, { align: 'left' }));

  // J / K titles
  elements.push(gText('Tumor corticosterone', 297, 816, 14.5, { bold: true }));
  elements.push(gText('Serum corticosterone', 547, 821, 14.5, { bold: true }));

  return {
    animation: false,
    backgroundColor: '#ffffff',
    textStyle: { fontFamily: FONT },
    grid: grids,
    xAxis,
    yAxis,
    legend: [
      {
        data: dNames, left: 23, top: 371, orient: 'vertical', itemWidth: 12, itemHeight: 6, itemGap: 7.3,
        icon: 'rect', selectedMode: false, textStyle: { fontSize: 9.5, fontFamily: FONT, color: '#333' },
      },
      {
        data: groupNames, left: 383, top: 677, orient: 'vertical', itemWidth: 12, itemHeight: 7, itemGap: 3.2,
        selectedMode: false, textStyle: { fontSize: 7, fontFamily: FONT, color: '#222' },
      },
    ],
    series,
    graphic: { elements },
  };
}

export default function App() {
  const ref = useRef<HTMLDivElement>(null);
  useEffect(() => {
    if (!ref.current) return;
    const chart = echarts.init(ref.current, null, { renderer: 'svg', width: 800, height: 1050 });
    chart.setOption(buildOption() as any);
    return () => chart.dispose();
  }, []);
  return <div ref={ref} style={{ position: 'absolute', left: 0, top: 0, width: 800, height: 1050, background: '#fff' }} />;
}
